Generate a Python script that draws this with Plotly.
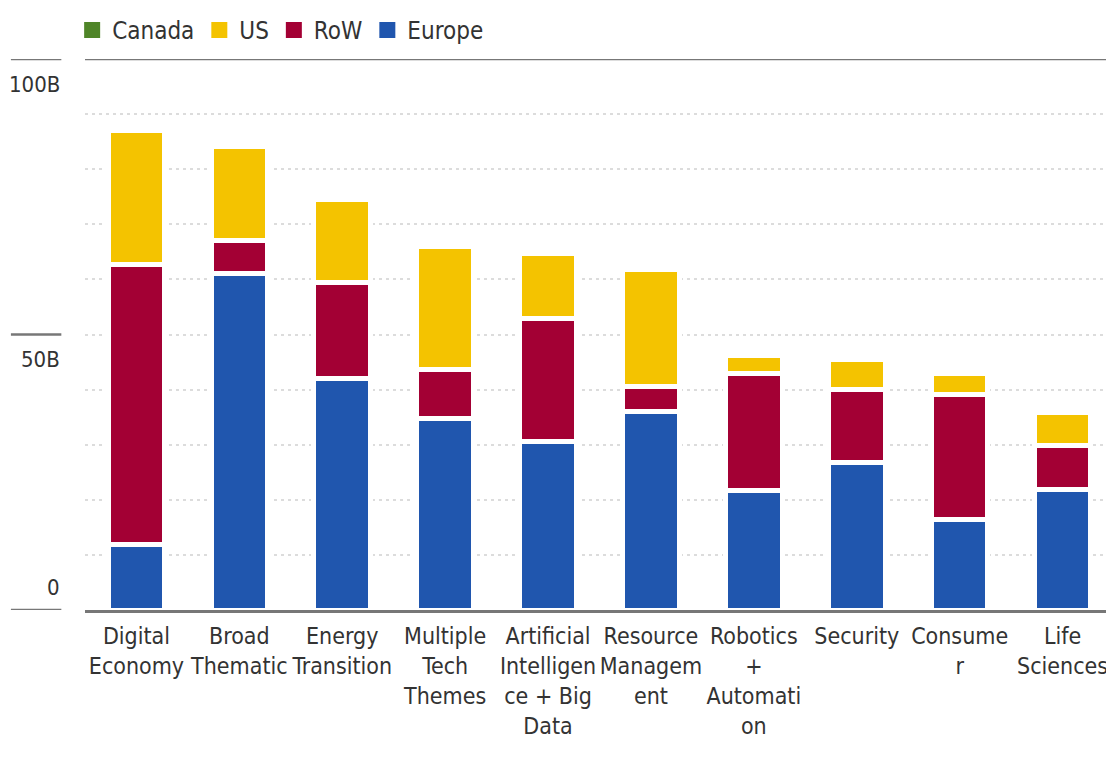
import plotly.graph_objects as go

categories = ["Digital<br>Economy", "Broad<br>Thematic", "Energy<br>Transition",
              "Multiple<br>Tech<br>Themes", "Artificial<br>Intelligen<br>ce + Big<br>Data",
              "Resource<br>Managem<br>ent", "Robotics<br>+<br>Automati<br>on", "Security",
              "Consume<br>r", "Life<br>Sciences"]
europe = [11.9, 61.1, 42.1, 34.8, 30.5, 36.1, 21.7, 26.8, 16.5, 21.9]
row = [50.8, 6.0, 17.3, 8.9, 22.4, 4.5, 21.3, 13.3, 22.7, 7.9]
us = [24.4, 17.1, 15.1, 22.2, 11.8, 21.2, 3.1, 5.4, 3.7, 6.1]
canada = [0, 0, 0, 0, 0, 0, 0, 0, 0, 0]
y_ticks = [100, 50, 0]
y_tick_text = ["100B", "50B", "0"]

FONT = "Liberation Sans Narrow, DejaVu Sans Condensed, sans-serif"
colors = {"Europe": "#2056AE", "RoW": "#A30034", "US": "#F4C300", "Canada": "#4F8528"}

fig = go.Figure()
for name, vals in [("Europe", europe), ("RoW", row), ("US", us), ("Canada", canada)]:
    fig.add_trace(go.Bar(x=categories, y=vals, name=name, showlegend=False,
                         marker=dict(color=colors[name], line=dict(color="white", width=5))))

# legend entries as big squares
for name in ["Europe", "RoW", "US", "Canada"]:
    fig.add_trace(go.Scatter(x=[None], y=[None], mode="markers", name=name,
                             marker=dict(symbol="square", size=22, color=colors[name])))

# y labels + short ticks at the left (page has an 8px body margin)
offsets = {100: -25, 50: -25, 0: 23}
for v, t in zip(y_ticks, y_tick_text):
    fig.add_annotation(x=-0.022, y=v, xref="paper", yref="y", text=t, showarrow=False,
                       xanchor="right", yanchor="middle", yshift=offsets[v],
                       font=dict(size=22, color="#333", family=FONT))
    fig.add_shape(type="line", xref="paper", yref="y", x0=-0.072, x1=-0.023, y0=v, y1=v,
                  line=dict(color="#777", width=2.5))
fig.add_shape(type="line", xref="paper", yref="y", x0=0, x1=1, y0=100, y1=100,
              line=dict(color="#777", width=2.5))

fig.update_layout(
    width=1106, height=750,
    margin=dict(l=77, r=0, t=51, b=148, autoexpand=False),
    paper_bgcolor="white", plot_bgcolor="white",
    barmode="stack", bargap=0.45,
    font=dict(family=FONT, size=23, color="#333"),
    legend=dict(orientation="h", x=0.058, xref="container", xanchor="left",
                y=1, yref="container", yanchor="top",
                traceorder="reversed", font=dict(size=24, color="#333"),
                itemwidth=30),
)
fig.update_xaxes(showline=True, linecolor="#777", linewidth=2.5, ticks="", tickangle=0,
                 tickfont=dict(size=23, color="#333"), ticklabelstandoff=4)
fig.update_yaxes(range=[0, 100], dtick=10, showticklabels=False, showgrid=True,
                 gridcolor="#dcdcdc", gridwidth=2, griddash="3px,4px", zeroline=False)

fig.write_html("out.html")
